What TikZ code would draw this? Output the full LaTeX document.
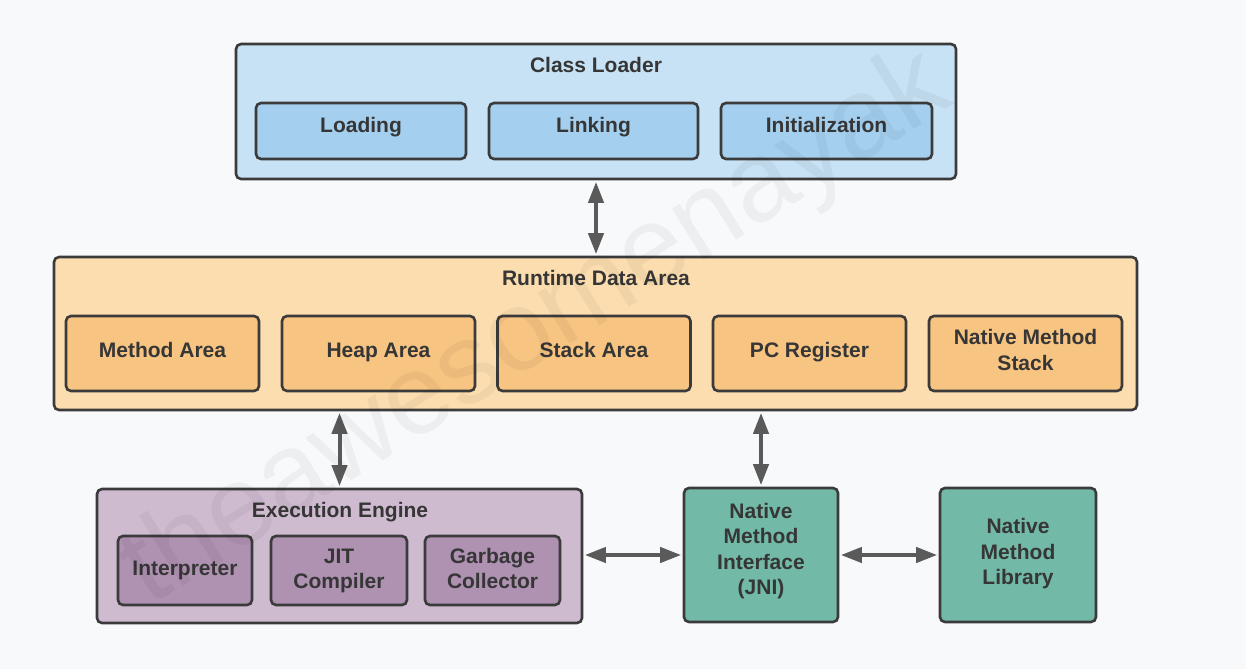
\documentclass[tikz,border=0pt]{standalone}
\usepackage{fontspec}
\setmainfont{Liberation Sans}
\usetikzlibrary{arrows.meta}
\definecolor{bg}{HTML}{F8F9FA}
\definecolor{bord}{HTML}{3B3B3B}
\definecolor{txt}{HTML}{363636}
\definecolor{clout}{HTML}{C7E2F5}
\definecolor{clin}{HTML}{A4CFEF}
\definecolor{rdout}{HTML}{FBDDAF}
\definecolor{rdin}{HTML}{F7C482}
\definecolor{exout}{HTML}{CEBBD0}
\definecolor{exin}{HTML}{AF91B2}
\definecolor{grn}{HTML}{72B9A7}
\definecolor{arrc}{HTML}{5A5A5A}
\newcommand\st{\rule[-7pt]{0pt}{16pt}}
\newcommand\sthi{\rule[-13pt]{0pt}{16pt}}
\newcommand\stlo{\rule[-4pt]{0pt}{19pt}}
\begin{document}
\begin{tikzpicture}[x=1pt,y=-1pt,
  box/.style={draw=bord, line width=2.6pt, rounded corners=5pt, inner sep=0pt,
    align=center, text=txt, font=\fontsize{21}{25.5}\selectfont\bfseries},
  ttl/.style={inner sep=0pt, text=txt, font=\fontsize{21}{25.5}\selectfont\bfseries},
  arr/.style={draw=arrc, line width=4pt, {Triangle[length=21pt,width=15pt]}-{Triangle[length=21pt,width=15pt]}, shorten <=1.5pt, shorten >=1.5pt}]
\useasboundingbox (0,0) rectangle (1246,669);
\fill[bg] (0,0) rectangle (1246,669);

% Class Loader
\node[box, fill=clout, minimum width=720pt, minimum height=135pt] (cl) at (596,111.5) {};
\node[ttl] (clt) at (596,68.5) {Class Loader\st};
\node[box, fill=clin, minimum width=210pt, minimum height=56pt] (load) at (361,131) {Loading\sthi};
\node[box, fill=clin, minimum width=209pt, minimum height=56pt] (link) at (593.5,131) {Linking\sthi};
\node[box, fill=clin, minimum width=211pt, minimum height=56pt] (init) at (826.5,131) {Initialization\sthi};

% Runtime Data Area
\node[box, fill=rdout, minimum width=1083pt, minimum height=153pt] (rda) at (595.5,333.5) {};
\node[ttl] (rdat) at (596,281) {Runtime Data Area\st};
\node[box, fill=rdin, minimum width=193pt, minimum height=75pt] (ma) at (162.5,353.5) {Method Area\st};
\node[box, fill=rdin, minimum width=193pt, minimum height=75pt] (ha) at (378.5,353.5) {Heap Area\st};
\node[box, fill=rdin, minimum width=193pt, minimum height=75pt] (sa) at (594,353.5) {Stack Area\st};
\node[box, fill=rdin, minimum width=193pt, minimum height=75pt] (pc) at (809.5,353.5) {PC Register\st};
\node[box, fill=rdin, minimum width=193pt, minimum height=75pt] (nms) at (1025.5,353.5) {Native Method\st\\Stack\st};

% Execution Engine
\node[box, fill=exout, minimum width=485pt, minimum height=134pt] (ex) at (339.5,556) {};
\node[ttl] (ext) at (340,513) {Execution Engine\st};
\node[box, fill=exin, minimum width=134pt, minimum height=69pt] (interp) at (185,570.5) {Interpreter\stlo};
\node[box, fill=exin, minimum width=136pt, minimum height=69pt] (jit) at (339,570.5) {JIT\stlo\\Compiler\stlo};
\node[box, fill=exin, minimum width=135pt, minimum height=69pt] (gc) at (492.5,570.5) {Garbage\stlo\\Collector\stlo};

% Native
\node[box, fill=grn, minimum width=154pt, minimum height=134pt] (jni) at (761,555) {Native\st\\Method\st\\Interface\st\\(JNI)\rule[-12pt]{0pt}{16pt}};
\node[box, fill=grn, minimum width=156pt, minimum height=134pt] (lib) at (1018,555) {Native\st\\Method\st\\Library\st};

% Connectors
\draw[arr] (cl.south) -- (cl.south |- rda.north);
\draw[arr] (ex.north) -- (ex.north |- rda.south);
\draw[arr] (jni.north) -- (jni.north |- rda.south);
\draw[arr] (ex.east |- jni.west) -- (jni.west);
\draw[arr] (jni.east) -- (lib.west);

% Watermark
\node[rotate=32, text=black, text opacity=0.045, inner sep=0pt,
  font=\fontsize{114}{114}\selectfont] (wm) at (537,330) {theawesomenayak};
\end{tikzpicture}
\end{document}
